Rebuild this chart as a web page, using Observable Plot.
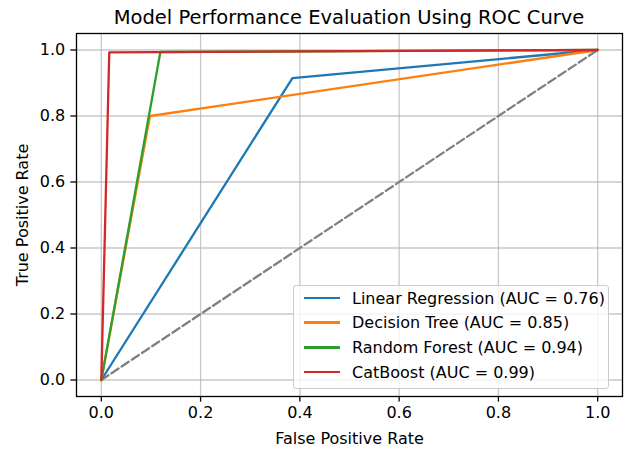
<!DOCTYPE html>
<html>
<head>
<meta charset="utf-8">
<script src="https://cdn.jsdelivr.net/npm/d3@7"></script>
<script src="https://cdn.jsdelivr.net/npm/@observablehq/plot@0.6"></script>
<style>
  html, body { margin: 0; padding: 0; background: white; }
  #wrap { position: relative; width: 629px; height: 453px; font-family: "DejaVu Sans", sans-serif; }
  #legend { position: absolute; left: 293px; top: 285px; width: 314px; height: 102px;
    background: rgba(255,255,255,0.8); border: 1px solid #cccccc; border-radius: 3px; box-sizing: content-box; }
  .row { position: absolute; left: 0; height: 20px; display: flex; align-items: center; font-size: 16px; color: #000; white-space: nowrap; }
  .swatch { width: 36px; height: 2.4px; margin-left: 10px; margin-right: 12px; }
</style>
</head>
<body>
<div id="wrap"></div>
<script>
const models = ["Linear Regression", "Decision Tree", "Random Forest", "CatBoost"];
const aucs = [0.76, 0.85, 0.94, 0.99];
const colors = ["#1f77b4", "#ff7f0e", "#2ca02c", "#d62728"];
const fprLR = [0, 0.385, 1];
const tprLR = [0, 0.915, 1];
const fprDT = [0, 0.098, 1];
const tprDT = [0, 0.800, 1];
const fprRF = [0, 0.119, 1];
const tprRF = [0, 0.994, 1];
const fprCB = [0, 0.016, 1];
const tprCB = [0, 0.993, 1];
const diagX = [0, 1];
const diagY = [0, 1];
const tickValues = [0, 0.2, 0.4, 0.6, 0.8, 1.0];
const title = "Model Performance Evaluation Using ROC Curve";
const xLabel = "False Positive Rate";
const yLabel = "True Positive Rate";

const fprs = [fprLR, fprDT, fprRF, fprCB];
const tprs = [tprLR, tprDT, tprRF, tprCB];
const rows = [];
models.forEach((m, i) => fprs[i].forEach((f, j) => rows.push({model: m, fpr: f, tpr: tprs[i][j]})));
const diag = diagX.map((x, i) => ({x, y: diagY[i]}));

const chart = Plot.plot({
  width: 629, height: 453,
  marginLeft: 76, marginRight: 7, marginTop: 33, marginBottom: 57,
  x: {domain: [-0.05, 1.05]},
  y: {domain: [-0.05, 1.05]},
  color: {domain: models, range: colors},
  style: {fontFamily: "DejaVu Sans", fontSize: "16px", color: "#000", background: "white", overflow: "visible"},
  marks: [
    Plot.gridX(tickValues, {stroke: "#b0b0b0", strokeOpacity: 0.7, strokeWidth: 1.3}),
    Plot.gridY(tickValues, {stroke: "#b0b0b0", strokeOpacity: 0.7, strokeWidth: 1.3}),
    Plot.line(diag, {x: "x", y: "y", stroke: "#808080", strokeWidth: 2.3, strokeDasharray: "8.5,3.7"}),
    Plot.line(rows, {x: "fpr", y: "tpr", z: "model", stroke: "model", strokeWidth: 2.3}),
    Plot.frame({stroke: "black", strokeWidth: 1.3}),
    Plot.axisX(tickValues, {tickFormat: d => d.toFixed(1), tickSize: 5.6, tickPadding: 5, strokeWidth: 1.3,
      label: xLabel, labelAnchor: "center", labelArrow: "none", labelOffset: 47}),
    Plot.axisY(tickValues, {tickFormat: d => d.toFixed(1), tickSize: 5.6, tickPadding: 5.6, strokeWidth: 1.3,
      label: yLabel, labelAnchor: "center", labelArrow: "none", labelOffset: 60})
  ]
});

d3.select(chart).append("text")
  .attr("x", 349).attr("y", 24)
  .attr("text-anchor", "middle")
  .attr("font-size", "19.5px")
  .attr("fill", "#000")
  .text(title);

const wrap = document.getElementById("wrap");
wrap.appendChild(chart);

const legend = document.createElement("div");
legend.id = "legend";
models.forEach((m, i) => {
  const r = document.createElement("div");
  r.className = "row";
  r.style.top = (2 + i * 24.7) + "px";
  const sw = document.createElement("div");
  sw.className = "swatch";
  sw.style.background = colors[i];
  const t = document.createElement("span");
  t.textContent = `${m} (AUC = ${aucs[i].toFixed(2)})`;
  r.appendChild(sw); r.appendChild(t);
  legend.appendChild(r);
});
wrap.appendChild(legend);
</script>
</body>
</html>
